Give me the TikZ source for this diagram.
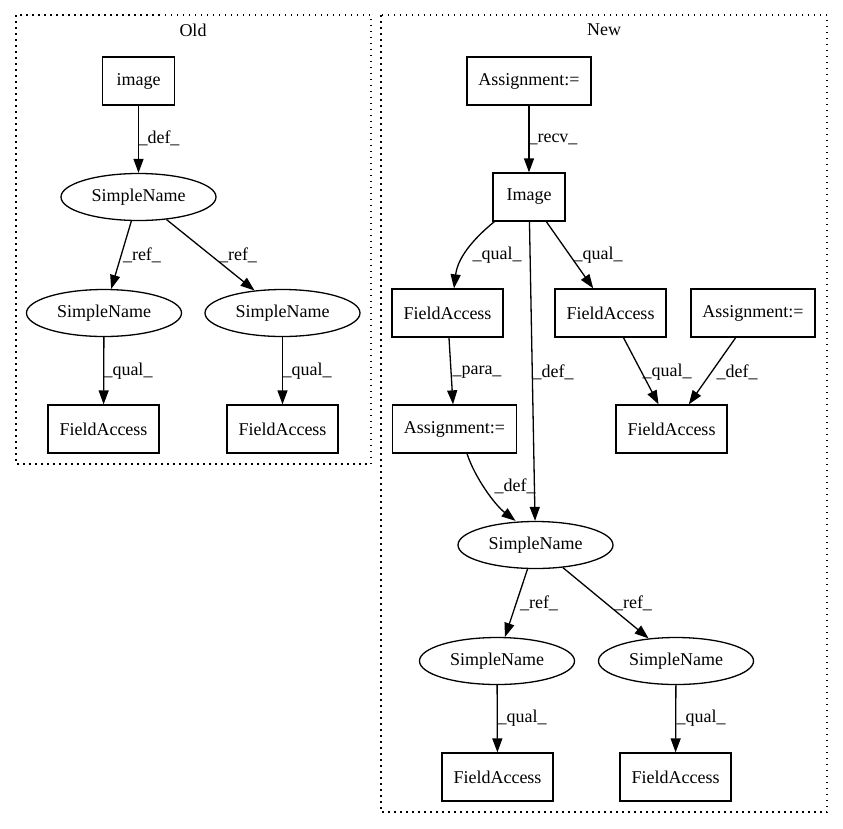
\documentclass[tikz,border=0pt]{standalone}
\usepackage{fontspec}
\setmainfont{Liberation Serif}
\usetikzlibrary{arrows.meta,shapes.geometric}
\begin{document}
\begin{tikzpicture}[x=1pt,y=-1pt,
 every node/.style={font=\fontsize{18}{21}\selectfont},
 boxnode/.style={draw,rectangle,line width=1.3pt,minimum height=48pt,minimum width=72pt,inner xsep=11.5pt,inner ysep=0pt},
 ellnode/.style={draw,ellipse,line width=1.3pt,minimum width=155pt,minimum height=47pt,inner sep=0pt},
 edge/.style={line width=1.3pt,-{Triangle[length=14pt,width=10pt]}},
 lbl/.style={inner sep=0pt},
 cluster/.style={line width=1.3pt,dash pattern=on 1.5pt off 4.5pt}]
\useasboundingbox (0,0) rectangle (843,828);
% clusters
\draw[cluster] (16,15) rectangle (371,464);
\node[lbl] (toldl) at (193,30) {Old};
\draw[cluster] (381,15) rectangle (827,812);
\node[lbl] (tnewl) at (604,30) {New};
% Old nodes
\node[boxnode] (oimg) at (138.5,81) {image};
\node[ellnode] (osn) at (138.5,197) {SimpleName};
\node[ellnode] (osnl) at (104,313) {SimpleName};
\node[ellnode] (osnr) at (282.5,313) {SimpleName};
\node[boxnode] (ofal) at (103.5,429) {FieldAccess};
\node[boxnode] (ofar) at (282.5,429) {FieldAccess};
% Old edges
\draw[edge] (oimg) -- (osn);
\node[lbl] (l1) at (159,138) {\_def\_};
\draw[edge] (osn) -- (osnl);
\node[lbl] (l2) at (142,255) {\_ref\_};
\draw[edge] (osn) -- (osnr);
\node[lbl] (l3) at (238,255) {\_ref\_};
\draw[edge] (osnl) -- (ofal);
\node[lbl] (l4) at (128,371) {\_qual\_};
\draw[edge] (osnr) -- (ofar);
\node[lbl] (l5) at (307,371) {\_qual\_};
% New nodes
\node[boxnode] (nas) at (529,81) {Assignment:=};
\node[boxnode] (nimg) at (529,197) {Image};
\node[boxnode] (nfal) at (447.5,313) {FieldAccess};
\node[boxnode] (nfam) at (610.5,313) {FieldAccess};
\node[boxnode] (nasr) at (753,313) {Assignment:=};
\node[boxnode] (nasl) at (454.5,429) {Assignment:=};
\node[boxnode] (nfar) at (671.5,429) {FieldAccess};
\node[ellnode] (nsn) at (535.5,545) {SimpleName};
\node[ellnode] (nsnl) at (497,661) {SimpleName};
\node[ellnode] (nsnr) at (676,661) {SimpleName};
\node[boxnode] (nfa1) at (497.5,777) {FieldAccess};
\node[boxnode] (nfa2) at (675.5,777) {FieldAccess};
% New edges
\draw[edge] (nas) -- (nimg);
\node[lbl] (m1) at (553,139) {\_recv\_};
\draw[edge] ([xshift=2pt]nimg.south west) .. controls (478,235) and (458,255) .. ([xshift=6.5pt]nfal.north);
\node[lbl] (m2) at (497,255) {\_qual\_};
\draw[edge] (nimg) -- (nfam);
\node[lbl] (m3) at (598,255) {\_qual\_};
\draw[edge] (nimg) -- (nsn);
\node[lbl] (m4) at (553,372) {\_def\_};
\draw[edge] (nfal) -- (nasl);
\node[lbl] (m5) at (477,372) {\_para\_};
\draw[edge] (nfam) -- (nfar);
\node[lbl] (m6) at (667,372) {\_qual\_};
\draw[edge] (nasr) -- (nfar);
\node[lbl] (m7) at (737,372) {\_def\_};
\draw[edge] ([xshift=12.5pt]nasl.south) .. controls (475,478) and (495,505) .. ([xshift=-20pt]nsn.north);
\node[lbl] (m8) at (515,486) {\_def\_};
\draw[edge] (nsn) -- (nsnl);
\node[lbl] (m9) at (539,603) {\_ref\_};
\draw[edge] (nsn) -- (nsnr);
\node[lbl] (m10) at (633,603) {\_ref\_};
\draw[edge] (nsnl) -- (nfa1);
\node[lbl] (m11) at (522,718) {\_qual\_};
\draw[edge] (nsnr) -- (nfa2);
\node[lbl] (m12) at (701,718) {\_qual\_};
\end{tikzpicture}
\end{document}
